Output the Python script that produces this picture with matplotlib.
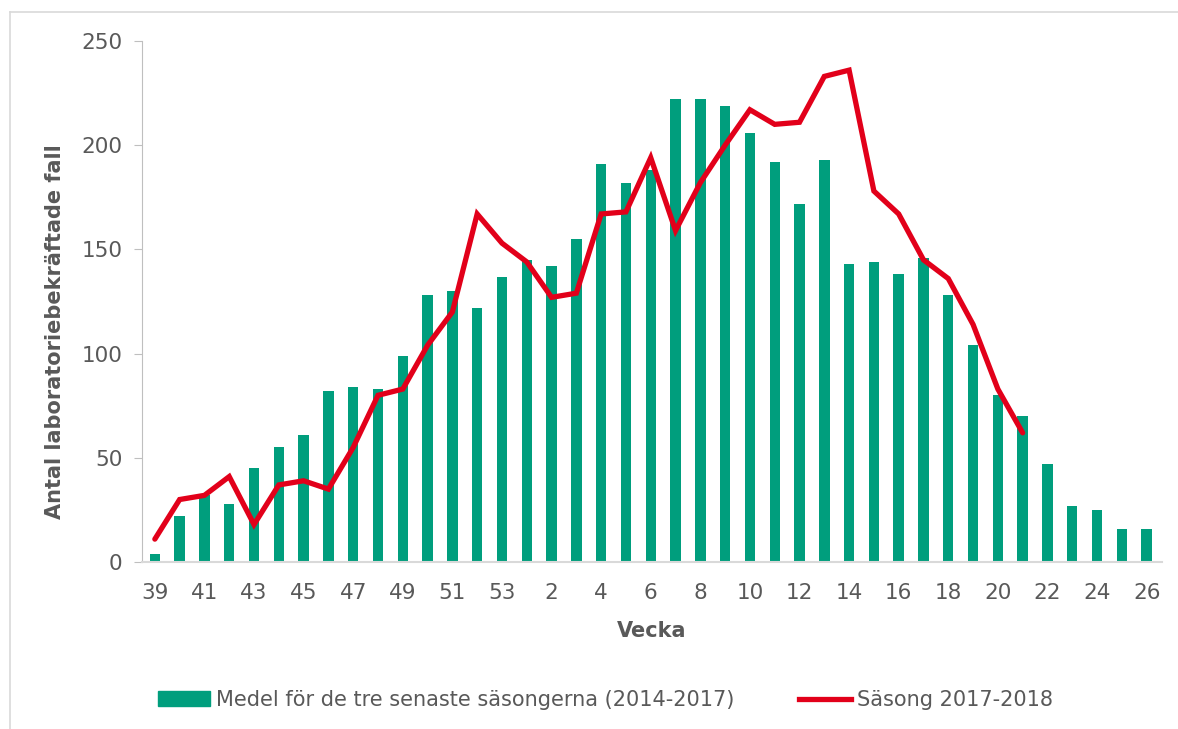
import matplotlib
matplotlib.use("Agg")
import matplotlib.pyplot as plt
from matplotlib.patches import Rectangle
from matplotlib.lines import Line2D

# veckor: 39-53, sedan 1-26
weeks = list(range(39, 54)) + list(range(1, 27))

medel = [4, 22, 32, 28, 45, 55, 61, 82, 84, 83, 99, 128, 130, 122, 137,
         145, 142, 155, 191, 182, 188, 222, 222, 219, 206, 192, 172, 193,
         143, 144, 138, 146, 128, 104, 80, 70, 47, 27, 25, 16, 16]

sasong = [11, 30, 32, 41, 18, 37, 39, 35, 55, 80, 83, 104, 120, 167, 153,
          144, 127, 129, 167, 168, 194, 159, 182, 200, 217, 210, 211, 233,
          236, 178, 167, 145, 136, 114, 83, 62]

bar_label = "Medel för de tre senaste säsongerna (2014-2017)"
line_label = "Säsong 2017-2018"

green = "#009E7D"
red = "#E2001A"
grey = "#595959"

fig = plt.figure(figsize=(11.78, 7.29), dpi=100)
ax = fig.add_axes([0.1205, 0.229, 0.8655, 0.7148])

x = list(range(len(weeks)))
ax.bar(x, medel, width=0.42, color=green, zorder=2)
ax.plot(x[:len(sasong)], sasong, color=red, lw=3.8, zorder=3,
        solid_joinstyle="miter", solid_capstyle="round")

ax.set_xlim(-0.52, 40.6)
ax.set_ylim(0, 250)
ax.set_yticks([0, 50, 100, 150, 200, 250])
ax.set_xticks(x[::2])
ax.set_xticklabels([str(w) for w in weeks[::2]])

for s in ["top", "right"]:
    ax.spines[s].set_visible(False)
ax.spines["left"].set_color("#BFBFBF")
ax.spines["bottom"].set_color("#D9D9D9")
ax.spines["bottom"].set_linewidth(1.5)
ax.tick_params(axis="y", colors=grey, labelsize=15.5, length=6, color="#BFBFBF", pad=8)
ax.tick_params(axis="x", colors=grey, labelsize=15.5, length=0, pad=15)

ax.set_ylabel("Antal laboratoriebekräftade fall", fontsize=15, fontweight="bold",
              color=grey)
ax.yaxis.set_label_coords(-0.0755, 0.443)
ax.set_xlabel("Vecka", fontsize=15, fontweight="bold", color=grey, labelpad=13)

handles = [Rectangle((0, 0), 1, 1, color=green),
           Line2D([0], [0], color=red, lw=3.8)]
fig.legend(handles, [bar_label, line_label], loc="center", ncol=2,
           bbox_to_anchor=(0.514, 0.04), frameon=False, fontsize=15,
           labelcolor=grey, handlelength=2.5, handletextpad=0.3,
           columnspacing=3.1)

# ram runt diagrammet
fig.add_artist(Line2D([0.0085, 0.0085], [0, 0.984], color="#D9D9D9", lw=1.2))
fig.add_artist(Line2D([0.0085, 1.0], [0.984, 0.984], color="#D9D9D9", lw=1.2))

fig.savefig("out.png", dpi=100)
